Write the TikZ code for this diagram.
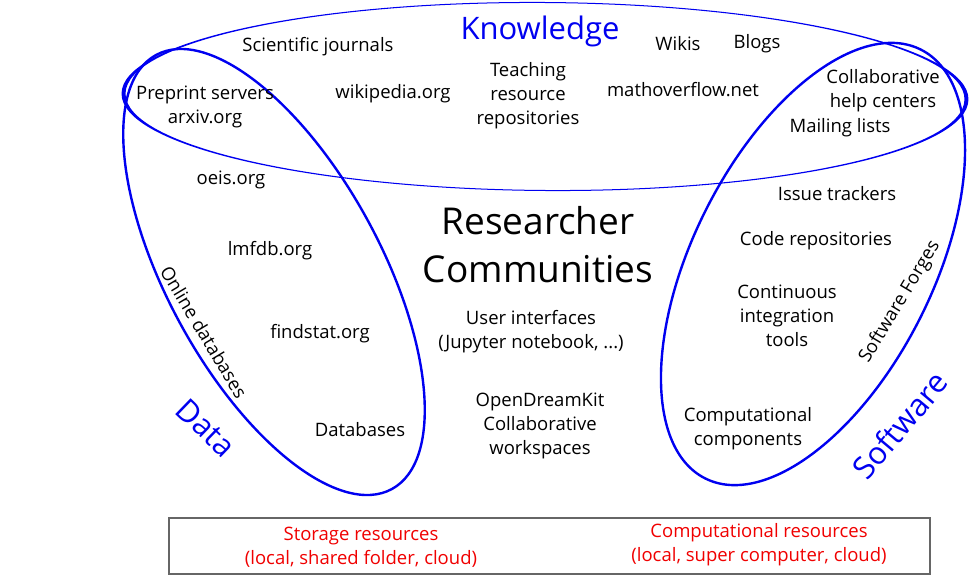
\documentclass[tikz,border=0pt]{standalone}
\usepackage{fontspec}
\setmainfont{Open Sans}
\definecolor{kblue}{RGB}{0,0,240}
\definecolor{kred}{RGB}{240,0,0}
\tikzset{
  lbl/.style={font=\fontsize{18.5}{24}\selectfont, align=center, inner sep=0pt, text=black, yshift=-2pt},
  big/.style={font=\fontsize{37}{48}\selectfont, align=center, inner sep=0pt, text=black, yshift=-1pt},
  area/.style={font=\fontsize{31}{36}\selectfont, inner sep=0pt, text=kblue},
  res/.style={font=\fontsize{18.5}{24}\selectfont, align=center, inner sep=0pt, text=kred, yshift=-2pt},
  blob/.style={draw=kblue, line width=2.4pt},
}
\begin{document}
\begin{tikzpicture}[x=1pt,y=-1pt]
\useasboundingbox (0,0) rectangle (969,575);
% Knowledge ring
\fill[kblue, even odd rule, rotate around={-0.4:(545,96.5)}]
  (545,96.5) ellipse [x radius=423.5, y radius=94.5]
  (545,96.5) ellipse [x radius=419.5, y radius=93.5];
% Data ellipse
\draw[blob, rotate around={-61.5:(274,272)}] (274,272) ellipse [x radius=247, y radius=107];
% Software ellipse
\draw[blob, rotate around={63.3:(813,264)}] (813,264) ellipse [x radius=240, y radius=120];

\node[area] (know) at (540,31) {Knowledge};
\node[lbl] (sj) at (318,45) {Scientific journals};
\node[lbl] (wikis) at (678,42) {Wikis};
\node[lbl] (blogs) at (757,42) {Blogs};
\node[lbl] (pre) at (205,105) {Preprint servers\\arxiv.org};
\node[lbl] (wiki) at (393,92) {wikipedia.org};
\node[lbl] (teach) at (528,94) {Teaching\\resource\\repositories};
\node[lbl] (mo) at (683,88) {mathoverflow.net};
\node[lbl] (collab) at (883,89) {Collaborative\\help centers};
\node[lbl] (mail) at (840,126) {Mailing lists};
\node[lbl] (oeis) at (231,178) {oeis.org};
\node[big] (rc) at (538,244) {Researcher\\Communities};
\node[lbl] (lmfdb) at (270,249) {lmfdb.org};
\node[lbl] (issue) at (837,192) {Issue trackers};
\node[lbl] (code) at (816,239) {Code repositories};
\node[lbl] (ci) at (787,314) {Continuous\\integration\\tools};
\node[lbl] (ui) at (531,330) {User interfaces\\(Jupyter notebook, ...)};
\node[lbl] (find) at (320,332) {findstat.org};
\node[lbl, rotate=-59] (odb) at (204,330) {Online databases};
\node[area, rotate=-44] (data) at (206,428) {Data};
\node[lbl] (db) at (360,428) {Databases};
\node[lbl] (odk) at (540,424) {OpenDreamKit\\Collaborative\\workspaces};
\node[lbl] (comp) at (748,427) {Computational\\components};
\node[lbl, rotate=59] (sf) at (900,300) {Software Forges};
\node[area, rotate=50] (soft) at (900,425) {Software};

\draw[draw=black!60, line width=1.2pt] (169,518) rectangle (930,574);
\node[res] (stor) at (361,545) {Storage resources\\(local, shared folder, cloud)};
\node[res] (compres) at (759,543) {Computational resources\\(local, super computer, cloud)};
\end{tikzpicture}
\end{document}
